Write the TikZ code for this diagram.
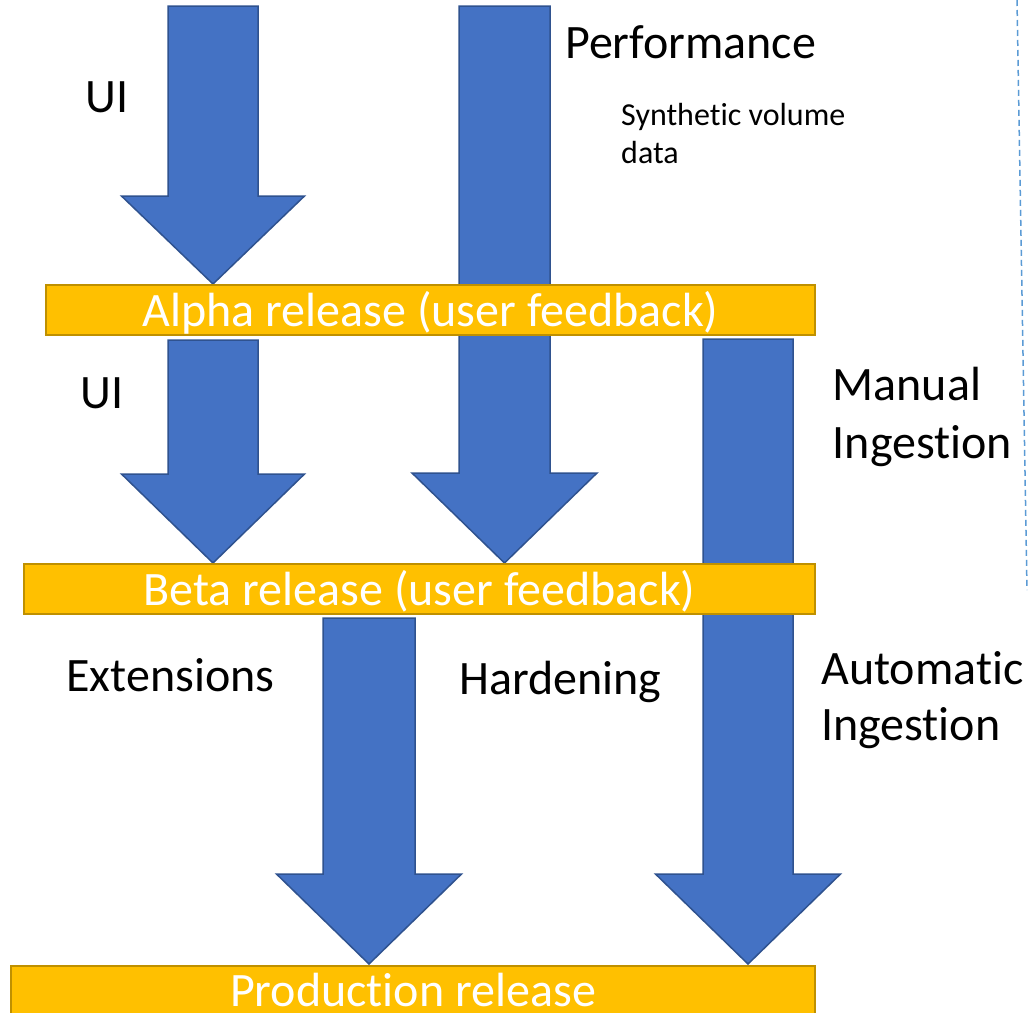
\documentclass[tikz,border=0pt]{standalone}
\usepackage{fontspec}
\setmainfont{Carlito}[Ligatures=NoCommon]
\definecolor{arrowblue}{HTML}{4472C4}
\definecolor{arrowedge}{HTML}{2F528F}
\definecolor{bargold}{HTML}{FFC000}
\definecolor{baredge}{HTML}{BF9000}
\definecolor{dashblue}{HTML}{5B9BD5}
% center x, shaft half width, head half width, top y, head y, tip y
\newcommand\blockdown[6]{%
  \draw[blockarrow] ({#1-#2},#4) -- ({#1+#2},#4) -- ({#1+#2},#5) -- ({#1+#3},#5)
    -- (#1,#6) -- ({#1-#3},#5) -- ({#1-#2},#5) -- cycle;}
\tikzset{
  blockarrow/.style={fill=arrowblue, draw=arrowedge, line width=1.5pt, line join=miter},
  bar/.style={rectangle, fill=bargold, draw=baredge, line width=1.8pt, minimum height=50pt, inner sep=0pt},
  bartext/.style={text=white, font=\fontsize{48}{58}\selectfont, inner sep=0pt, anchor=base},
  lbl/.style={text=black, font=\fontsize{48}{58}\selectfont, inner sep=0pt, anchor=base west},
  smalllbl/.style={text=black, font=\fontsize{32}{39}\selectfont, inner sep=0pt, anchor=base west},
}
\begin{document}
\begin{tikzpicture}[x=1pt, y=-1pt]
\useasboundingbox (0,0) rectangle (1028,1012);
\clip (0,0) rectangle (1028,1012);
\fill[white] (0,0) rectangle (1028,1012);

% dashed edge line at right
\coordinate (dashtop) at (1017,0);
\coordinate (dashbot) at (1027,590);
\draw[dashblue, line width=1.5pt, dash pattern=on 6pt off 4pt] (dashtop) -- (dashbot);

% block arrows
\blockdown{213}{45}{91.5}{6}{196}{284}
\blockdown{504.5}{45.5}{92.5}{6}{473}{563}
\blockdown{213}{45}{91.5}{340}{474}{563}
\blockdown{748}{45}{92.5}{339}{874}{964}
\blockdown{369}{46}{92.5}{618}{874}{964}

% release bars
\node[bar, minimum width=769pt] (alpha) at (430.5,310) {};
\node[bar, minimum width=791pt] (beta) at (419.5,589) {};
\node[bar, minimum width=804pt] (prod) at (413,991) {};
\node[bartext] (alphatxt) at (430.5,326) {Alpha release (user feedback)};
\node[bartext] (betatxt) at (419.5,605) {Beta release (user feedback)};
\node[bartext] (prodtxt) at (413,1006) {Production release};

% labels
\node[lbl] (ui1) at (85,112) {UI};
\node[lbl] (perf) at (565,58) {Performance};
\node[smalllbl] (synth1) at (621,125) {Synthetic volume};
\node[smalllbl] (synth2) at (621,163) {data};
\node[lbl] (ui2) at (80,408) {UI};
\node[lbl] (manual1) at (832.5,400) {Manual};
\node[lbl] (manual2) at (832.5,458) {Ingestion};
\node[lbl] (ext) at (66,691) {Extensions};
\node[lbl] (hard) at (459,694) {Hardening};
\node[lbl] (auto1) at (821,684) {Automatic};
\node[lbl] (auto2) at (821,740) {Ingestion};
\end{tikzpicture}
\end{document}
